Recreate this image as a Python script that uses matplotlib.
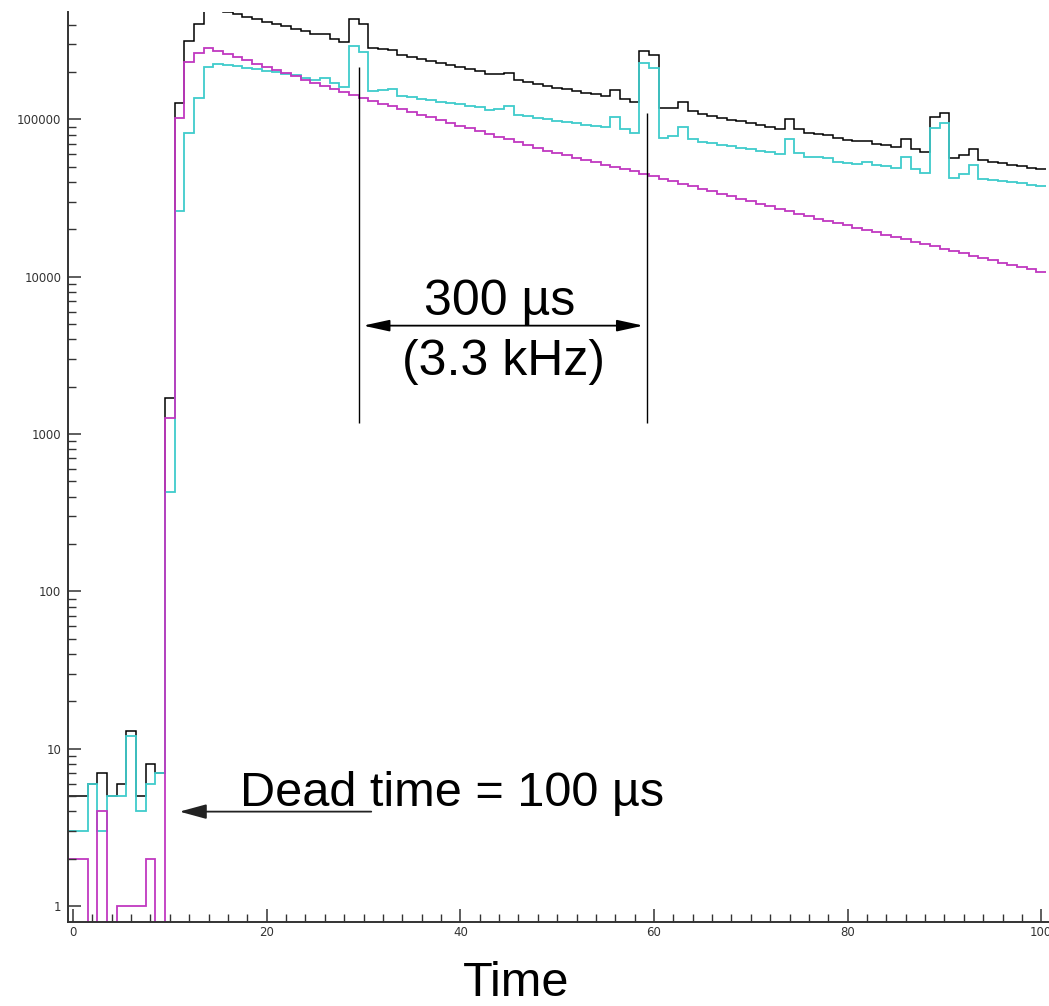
import matplotlib
matplotlib.use("Agg")
import matplotlib.pyplot as plt
from matplotlib.ticker import FixedLocator, NullFormatter, MultipleLocator
import numpy as np

# one bin per 10 us, bins centred on 0..100
bin_edges = np.arange(-0.5, 101.0, 1.0)

# magenta: decay component
decay_counts = [2, 2, 0, 4, 0, 1, 1, 1, 2, 0,
                1260, 101700, 233000, 265000, 284000, 273800, 261300, 248900, 237500, 226700,
                216000, 206100, 196400, 187700, 179300, 171400, 163800, 156500, 149800, 143200,
                137000, 131500, 126200, 121300, 116400, 111900, 107400, 103100, 99100, 95100,
                91300, 87800, 84200, 80900, 77600, 74600, 71700, 68800, 66100, 63400,
                61200, 59100, 57200, 55300, 53400, 51700, 49950, 48300, 46700, 45150,
                43600, 42040, 40530, 39130, 37720, 36370, 35060, 33800, 32590, 31420,
                30240, 29160, 28110, 27100, 26120, 25190, 24280, 23440, 22670, 21920,
                21190, 20490, 19810, 19120, 18490, 17880, 17290, 16720, 16160, 15610,
                15090, 14590, 14110, 13640, 13190, 12730, 12310, 11900, 11510, 11130,
                10760]

# cyan: second component, with the spikes every 300 us
other_counts = [3, 3, 6, 3, 5, 5, 12, 4, 6, 7,
                430, 26300, 81700, 137600, 216600, 225400, 222100, 217300, 212600, 207900,
                203400, 199000, 194700, 190400, 184100, 178300, 184400, 169400, 161600, 293400,
                268700, 151800, 154000, 157000, 141100, 138200, 135400, 132700, 129950, 127300,
                124700, 122200, 119700, 114100, 116600, 122400, 106800, 104500, 102200, 100000,
                97800, 96100, 94450, 92800, 91200, 89600, 103300, 87000, 81700, 227700,
                211600, 75940, 78540, 90000, 75160, 71940, 70380, 68850, 67360, 65900,
                64460, 63070, 61700, 60360, 74830, 61240, 57500, 57750, 56920, 53910,
                53130, 52360, 53680, 51000, 50260, 48960, 58000, 48250, 45900, 88700,
                95420, 42290, 45040, 51380, 41680, 40960, 40360, 39780, 39200, 38350,
                37780]

# black: sum of both
total_counts = np.array(decay_counts) + np.array(other_counts)

y_ticks = [1, 10, 100, 1000, 10000, 100000]
y_tick_labels = ["1", "10", "100", "1000", "10000", "100000"]
x_ticks = [0, 20, 40, 60, 80, 100]

W, H = 1049, 1006
fig = plt.figure(figsize=(W / 100, H / 100), dpi=100)
ax = fig.add_axes([68.2 / W, 84 / H, 1 - 68.2 / W, (922 - 11.6) / H])

ax.set_yscale("log", nonpositive="clip")
ax.stairs(total_counts, bin_edges, baseline=None, color="black", lw=1.1)
ax.stairs(other_counts, bin_edges, baseline=None, color="#3fcccc", lw=1.3)
ax.stairs(decay_counts, bin_edges, baseline=None, color="#c038c0", lw=1.3)

ax.set_xlim(-0.5, 100.8)
ax.set_ylim(0.791, 485000)

for s in ["top", "right"]:
    ax.spines[s].set_visible(False)
for s in ["left", "bottom"]:
    ax.spines[s].set_color("#333333")
    ax.spines[s].set_linewidth(1.4)

ax.yaxis.set_major_locator(FixedLocator(y_ticks))
ax.set_yticklabels(y_tick_labels)
ax.yaxis.set_minor_locator(FixedLocator([m * d for d in y_ticks for m in range(2, 10)]))
ax.yaxis.set_minor_formatter(NullFormatter())
ax.xaxis.set_major_locator(FixedLocator(x_ticks))
ax.xaxis.set_minor_locator(MultipleLocator(2))

ax.tick_params(which="major", direction="in", length=9.5, width=1.1, color="#333333",
               labelsize=8.5, labelcolor="#333333")
ax.tick_params(which="minor", direction="in", length=5.5, width=1.0, color="#333333")
ax.tick_params(axis="y", which="major", pad=5)
ax.tick_params(axis="x", which="major", pad=3)

# 300 us markers
ax.vlines(29.55, 1171, 214800, color="black", lw=1.0)
ax.vlines(59.3, 1171, 109900, color="black", lw=1.0)
ax.annotate("", xy=(58.9, 4890), xytext=(29.96, 4890),
            arrowprops=dict(arrowstyle="<|-|>,head_length=1.6,head_width=0.35",
                            mutation_scale=10, lw=1.3, color="black",
                            shrinkA=0, shrinkB=0))
ax.annotate("", xy=(11.0, 3.98), xytext=(30.8, 3.98),
            arrowprops=dict(arrowstyle="-|>,head_length=1.65,head_width=0.45",
                            mutation_scale=10, lw=1.3, color="#222222",
                            shrinkA=0, shrinkB=0))

font = "Liberation Sans"
fig.text(500 / W, 1 - 315 / H, "300 µs", fontsize=36, family=font,
         ha="center", va="baseline")
fig.text(503 / W, 1 - 375 / H, "(3.3 kHz)", fontsize=36, family=font,
         ha="center", va="baseline")
fig.text(240 / W, 1 - 806 / H, "Dead time = 100 µs", fontsize=35, family=font,
         ha="left", va="baseline")
fig.text(516.5 / W, 1 - 996 / H, "Time", fontsize=35, family=font,
         ha="center", va="baseline")

fig.savefig("out.png", dpi=100)
